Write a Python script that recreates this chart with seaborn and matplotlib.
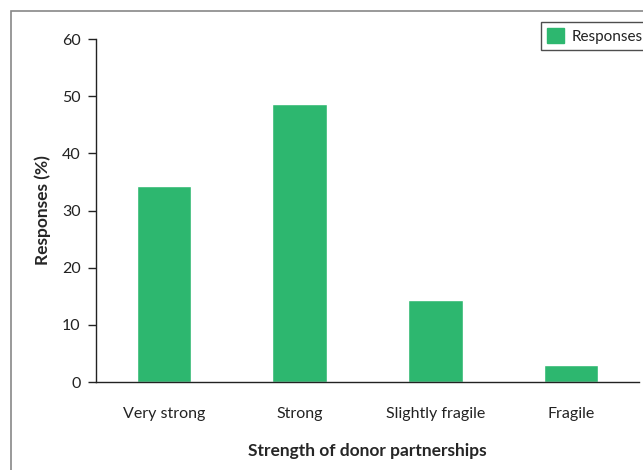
import matplotlib
matplotlib.use("Agg")
import matplotlib.pyplot as plt
import matplotlib.patches as mpatches
import pandas as pd
import seaborn as sns

categories = ["Very strong", "Strong", "Slightly fragile", "Fragile"]
responses = [34.3, 48.6, 14.3, 2.9]
y_ticks = [0, 10, 20, 30, 40, 50, 60]

df = pd.DataFrame({"Strength": categories, "Responses": responses})

sns.set_style("white")
plt.rcParams["font.family"] = ["Lato", "DejaVu Sans"]
plt.rcParams["text.color"] = "#222222"

fig = plt.figure(figsize=(6.43, 4.70), dpi=100)
ax = fig.add_axes([96 / 643, 88 / 470, 543 / 643, 343 / 470])

green = "#2db76f"
sns.barplot(data=df, x="Strength", y="Responses", color=green, width=0.4,
            saturation=1, ax=ax)

ax.set_xlim(-0.5, 3.5)
ax.set_ylim(0, 60)
ax.set_yticks(y_ticks)
ax.set_xticks(range(len(categories)))
ax.set_xticklabels(categories)
ax.set_xticks([i - 0.5 for i in range(len(categories) + 1)], minor=True)
ax.tick_params(axis="x", which="major", length=0, pad=18, labelsize=11.5, colors="#222222")
ax.tick_params(axis="x", which="minor", length=7, width=1, direction="out", color="#222222")
ax.tick_params(axis="y", length=6, width=1, direction="out", labelsize=11.5, pad=5,
               color="#222222", labelcolor="#222222", left=True)

for side in ["top", "right"]:
    ax.spines[side].set_visible(False)
for side in ["left", "bottom"]:
    ax.spines[side].set_color("#222222")
    ax.spines[side].set_linewidth(1)

ax.set_xlabel("Strength of donor partnerships", fontsize=12.5, fontweight="bold", labelpad=16)
ax.set_ylabel("Responses (%)", fontsize=12.5, fontweight="bold", labelpad=8)

handle = mpatches.Patch(color=green, label="Responses")
leg = fig.legend(handles=[handle], loc="upper left", bbox_to_anchor=(541 / 643, 1 - 22 / 470),
                 fontsize=11, frameon=True, fancybox=False,
                 handlelength=1.1, handleheight=1.1, borderpad=0.4, handletextpad=0.5,
                 borderaxespad=0)
leg.get_frame().set_edgecolor("#222222")
leg.get_frame().set_linewidth(1)

# outer frame of the figure panel
fig.patches.append(mpatches.Rectangle((11 / 643, -0.1), 1.2, 1 - 11 / 470 + 0.1,
                                      transform=fig.transFigure, fill=False,
                                      edgecolor="#888888", linewidth=1.2))

fig.savefig("out.png", dpi=100)
